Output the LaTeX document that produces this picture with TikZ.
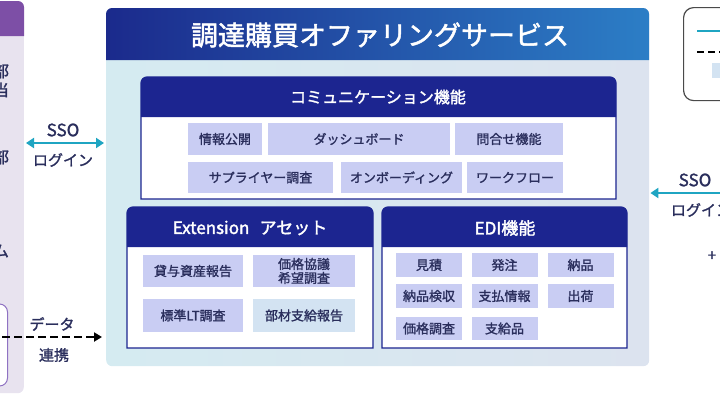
\documentclass[tikz,border=0pt]{standalone}
\usepackage{fontspec}
\setmainfont{Noto Sans CJK JP}[FakeBold=1.4]
\newfontfamily\headfont{Noto Sans CJK JP}[FakeBold=1.8]
\usetikzlibrary{arrows.meta,calc}
\definecolor{lav}{HTML}{E8E3EF}
\definecolor{lphead}{HTML}{7D4FA6}
\definecolor{lpline}{HTML}{8F72C2}
\definecolor{bodyl}{HTML}{D5EBF1}
\definecolor{bodyr}{HTML}{DCE3EF}
\definecolor{hdl}{HTML}{1B2A8C}
\definecolor{hdr}{HTML}{2C7EC6}
\definecolor{navy}{HTML}{1C2590}
\definecolor{itemfill}{HTML}{C9CDF3}
\definecolor{lightbox}{HTML}{D3E3F2}
\definecolor{ssoteal}{HTML}{1FA5C2}
\definecolor{ink}{HTML}{2A2E5C}
\definecolor{legline}{HTML}{4A4A4A}
\begin{document}
\begin{tikzpicture}[
    x=1pt, y=-1pt,
    every node/.style={inner sep=0pt, text=ink},
    item/.style={fill=itemfill, minimum height=32pt, font=\fontsize{13}{15}\selectfont},
    edi/.style={item, minimum width=66pt, minimum height=24pt},
    frame/.style={draw=navy, line width=1.2pt, fill=white},
    title/.style={text=white, font=\headfont\fontsize{16}{19}\selectfont},
    side/.style={font=\fontsize{16}{19}\selectfont},
    sso/.style={{Triangle[length=8pt,width=10pt]}-{Triangle[length=8pt,width=10pt]},
      draw=ssoteal, line width=2.4pt},
    data/.style={-{Triangle[length=8pt,width=9pt]}, draw=black, line width=2.6pt,
      dash pattern=on 8pt off 4pt}
  ]
  \useasboundingbox (0,0) rectangle (720,405);
  \clip (0,0) rectangle (720,405);

  % left panel
  \node[fill=lav, rounded corners=6pt, minimum width=90pt, minimum height=392pt,
    anchor=north east] (lp) at (24,1) {};
  \fill[lphead] (-66,36) [rounded corners=6pt] -- (-66,1) -- (24,1) [sharp corners] -- (24,36) -- cycle;
  \node[side] (t1) at (1,71) {部};
  \node[side] (t2) at (1,90) {当};
  \node[side] (t3) at (1,157) {部};
  \node[side] (t4) at (1,251) {ム};
  \node[draw=lpline, line width=1pt, fill=white, rounded corners=8pt,
    minimum width=60pt, minimum height=82pt, anchor=east] (ib) at (8,345) {};

  % main panel
  \node[rounded corners=6pt, left color=bodyl, right color=bodyr,
    minimum width=543pt, minimum height=358pt, anchor=north west] (main) at (106,8) {};
  \path[left color=hdl, right color=hdr] (106,60) [rounded corners=6pt] -- (106,8) -- (649,8)
    [sharp corners] -- (649,60) -- cycle;
  \node[text=white, font=\headfont\fontsize{27}{31}\selectfont] (mt) at (380,35) {調達購買オファリングサービス};

  % communication
  \draw[frame] (141,199) [rounded corners=6pt] -- (141,77) -- (616,77) [sharp corners] -- (616,199) -- cycle;
  \fill[navy] (141,117) [rounded corners=6pt] -- (141,77) -- (616,77) [sharp corners] -- (616,117) -- cycle;
  \node[title] (ct) at (378,97) {コミュニケーション機能};
  \node[item, minimum width=74pt] (c1) at (225,139) {情報公開};
  \node[item, minimum width=182pt] (c2) at (359,139) {ダッシュボード};
  \node[item, minimum width=108pt] (c3) at (509,139) {問合せ機能};
  \node[item, minimum width=145pt, minimum height=31pt] (c4) at (260.5,177.5) {サプライヤー調査};
  \node[item, minimum width=121pt, minimum height=31pt] (c5) at (401.5,177.5) {オンボーディング};
  \node[item, minimum width=96pt, minimum height=31pt] (c6) at (515,177.5) {ワークフロー};

  % extension
  \draw[frame] (127,348) [rounded corners=6pt] -- (127,207) -- (373,207) [sharp corners] -- (373,348) -- cycle;
  \fill[navy] (127,247) [rounded corners=6pt] -- (127,207) -- (373,207) [sharp corners] -- (373,247) -- cycle;
  \node[title, font=\headfont\fontsize{17}{20}\selectfont] (xt) at (250,228) {Extension\hspace{0.6em}アセット};
  \node[item, minimum width=100pt] (x1) at (193,271) {貸与資産報告};
  \node[item, minimum width=102pt, align=center, font=\fontsize{13}{14}\selectfont] (x2) at (304,271) {価格協議\\希望調査};
  \node[item, minimum width=100pt, minimum height=33pt] (x3) at (193,315.5) {標準LT調査};
  \node[item, fill=lightbox, minimum width=102pt, minimum height=33pt] (x4) at (304,315.5) {部材支給報告};

  % EDI
  \draw[frame] (382,348) [rounded corners=6pt] -- (382,207) -- (627,207) [sharp corners] -- (627,348) -- cycle;
  \fill[navy] (382,247) [rounded corners=6pt] -- (382,207) -- (627,207) [sharp corners] -- (627,247) -- cycle;
  \node[title, font=\headfont\fontsize{17}{20}\selectfont] (et) at (505,228) {EDI機能};
  \node[edi] (e1) at (429,265) {見積};
  \node[edi] (e2) at (504.5,265) {発注};
  \node[edi] (e3) at (580.5,265) {納品};
  \node[edi] (e4) at (429,296) {納品検収};
  \node[edi] (e5) at (504.5,296) {支払情報};
  \node[edi] (e6) at (580.5,296) {出荷};
  \node[edi, minimum height=23pt] (e7) at (429,328.5) {価格調査};
  \node[edi, minimum height=23pt] (e8) at (504.5,328.5) {支給品};

  % links
  \coordinate (s1) at (0,143);
  \draw[sso, shorten <=2pt, shorten >=2pt] (lp.east |- s1) -- (main.west |- s1);
  \node[side, font=\fontsize{17}{20}\selectfont] (sso1) at (63,130) {SSO};
  \node[side, font=\fontsize{15}{18}\selectfont] (log1) at (63,160) {ログイン};

  \coordinate (d1) at (-10,337);
  \draw[data, shorten >=4pt] (d1) -- (main.west |- d1);
  \node[side, font=\fontsize{15}{18}\selectfont] (dt1) at (52,324) {データ};
  \node[side, font=\fontsize{15}{18}\selectfont] (dt2) at (54,355) {連携};

  \coordinate (s2) at (740,193);
  \draw[sso, shorten <=1pt] (main.east |- s2) -- (s2);
  \node[side, font=\fontsize{17}{20}\selectfont] (sso2) at (695,180) {SSO};
  \node[side, font=\fontsize{15}{18}\selectfont] (log2) at (701,210) {ログイン};
  \node[side, font=\fontsize{15}{18}\selectfont] (t5) at (712,256) {+};

  % legend
  \node[draw=legline, line width=1.2pt, rounded corners=10pt, fill=white,
    minimum width=120pt, minimum height=93pt, anchor=north west] (lg) at (683,7) {};
  \draw[ssoteal, line width=2.5pt] ($(lg.north west)+(14,24)$) -- ++(50,0);
  \draw[black, line width=2.5pt, dash pattern=on 7pt off 4pt] ($(lg.north west)+(14,45)$) -- ++(50,0);
  \fill[lightbox] ($(lg.north west)+(29,56)$) rectangle ++(40,15);
\end{tikzpicture}
\end{document}
